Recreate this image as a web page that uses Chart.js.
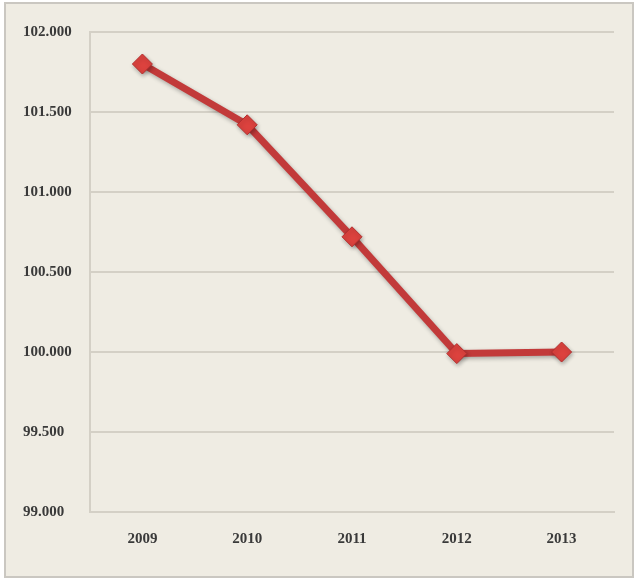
<!DOCTYPE html>
<html>
<head>
<meta charset="utf-8">
<script src="https://cdn.jsdelivr.net/npm/chart.js@4/dist/chart.umd.min.js"></script>
<style>
  html, body { margin: 0; padding: 0; background: #ffffff; }
  #frame {
    position: absolute; left: 4px; top: 2px;
    width: 626px; height: 572px;
    border: 2px solid #cac7c1;
    background: #efece3;
  }
  canvas { display: block; }
</style>
</head>
<body>
<div id="frame"><canvas id="chart" width="626" height="572"></canvas></div>
<script>
/* Line chart — yearly index 2009-2013 */

const years = ['2009', '2010', '2011', '2012', '2013'];
const indexValues = [101.80, 101.42, 100.72, 99.99, 100.00];
const yTicks = [99.0, 99.5, 100.0, 100.5, 101.0, 101.5, 102.0];

const GRID_COLOR = '#d4d0c6';
const TEXT_COLOR = '#3a3a3a';
const LINE_COLOR = '#c23a3a';

// soft drop shadow under the line and markers
const shadowPlugin = {
  id: 'shadow',
  beforeDatasetsDraw(chart) {
    const ctx = chart.ctx;
    ctx.save();
    ctx.shadowColor = 'rgba(0, 0, 0, 0.3)';
    ctx.shadowBlur = 4;
    ctx.shadowOffsetX = 1;
    ctx.shadowOffsetY = 2;
  },
  afterDatasetsDraw(chart) {
    chart.ctx.restore();
  }
};

const labelFont = { family: '"Liberation Serif", serif', size: 15, weight: 'bold' };

new Chart(document.getElementById('chart'), {
  type: 'line',
  data: {
    labels: years,
    datasets: [{
      data: indexValues,
      borderColor: LINE_COLOR,
      borderWidth: 7,
      tension: 0,
      pointStyle: 'rectRot',
      pointRadius: 10,
      pointBackgroundColor: '#dc423e',
      pointBorderColor: '#b32e2e',
      pointBorderWidth: 1,
    }]
  },
  options: {
    responsive: false,
    animation: false,
    layout: { padding: { left: 17, top: 28, right: 18, bottom: 10 } },
    plugins: {
      legend: { display: false },
      tooltip: { enabled: false }
    },
    scales: {
      x: {
        offset: true,
        grid: { display: false, drawTicks: false },
        border: { display: true, color: GRID_COLOR, width: 2 },
        ticks: { color: TEXT_COLOR, font: labelFont, padding: 18 }
      },
      y: {
        min: 99,
        max: 102,
        afterBuildTicks: scale => {
          scale.ticks = yTicks.map(v => ({ value: v }));
        },
        afterFit: scale => { scale.width = 67; },
        grid: { color: GRID_COLOR, lineWidth: 2, drawTicks: false },
        border: { display: true, color: GRID_COLOR, width: 2 },
        ticks: {
          color: TEXT_COLOR,
          font: labelFont,
          crossAlign: 'far',
          callback: v => Number(v).toFixed(3)
        }
      }
    }
  },
  plugins: [shadowPlugin]
});
</script>
</body>
</html>
